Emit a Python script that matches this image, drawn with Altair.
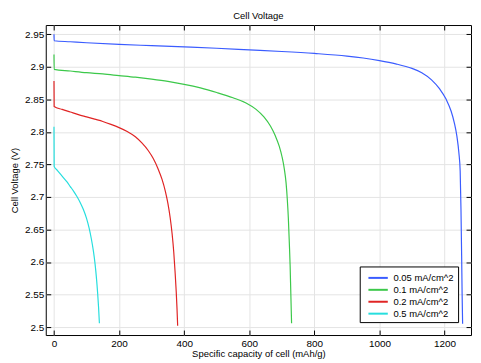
import altair as alt
import pandas as pd

series_names = ["0.05 mA/cm^2", "0.1 mA/cm^2", "0.2 mA/cm^2", "0.5 mA/cm^2"]
series_colors = ["#3a5cff", "#3cc84a", "#e02424", "#26dede"]

cap_005 = [0, 0.5, 50, 100, 200, 300, 400, 500, 600, 700, 800, 900, 950, 1000, 1050,
           1100, 1130, 1160, 1185, 1205, 1220, 1230, 1238, 1244, 1248, 1250.5, 1252.5,
           1254, 1255.5]
volt_005 = [2.950, 2.940, 2.9385, 2.937, 2.9345, 2.9325, 2.9305, 2.9285, 2.926, 2.9235,
            2.9205, 2.9165, 2.9135, 2.9095, 2.9045, 2.8975, 2.891, 2.880, 2.866, 2.850,
            2.832, 2.814, 2.793, 2.768, 2.740, 2.680, 2.610, 2.550, 2.505]

cap_01 = [0, 0.5, 50, 100, 150, 200, 250, 300, 350, 400, 450, 500, 550, 590, 620, 645,
          665, 680, 692, 701, 708, 713, 717, 720, 723, 725.5, 727.5, 729, 730]
volt_01 = [2.919, 2.896, 2.8935, 2.891, 2.889, 2.8865, 2.884, 2.881, 2.8775, 2.873,
           2.8675, 2.8605, 2.8525, 2.8445, 2.835, 2.823, 2.809, 2.794, 2.778, 2.761, 2.742,
           2.722, 2.695, 2.668, 2.630, 2.595, 2.555, 2.525, 2.506]

cap_02 = [0, 0.5, 25, 50, 75, 100, 125, 150, 175, 200, 225, 250, 270, 290, 305, 320,
          332, 342, 350, 357, 363, 368, 372, 375.5, 378, 380]
volt_02 = [2.878, 2.839, 2.8345, 2.8305, 2.8265, 2.823, 2.8195, 2.816, 2.8115, 2.8065,
           2.8005, 2.7925, 2.783, 2.771, 2.759, 2.743, 2.727, 2.709, 2.690, 2.668, 2.643,
           2.615, 2.585, 2.555, 2.528, 2.502]

cap_05 = [0, 0.5, 10, 20, 30, 40, 50, 60, 70, 80, 90, 100, 108, 115, 121, 126, 130, 134,
          137, 139.5]
volt_05 = [2.808, 2.747, 2.741, 2.735, 2.729, 2.723, 2.716, 2.709, 2.701, 2.692, 2.681,
           2.667, 2.652, 2.635, 2.617, 2.598, 2.578, 2.553, 2.530, 2.506]

x_ticks = [0, 200, 400, 600, 800, 1000, 1200]
y_ticks = [2.5, 2.55, 2.6, 2.65, 2.7, 2.75, 2.8, 2.85, 2.9, 2.95]

rows = []
for name, xs, ys in zip(series_names,
                        [cap_005, cap_01, cap_02, cap_05],
                        [volt_005, volt_01, volt_02, volt_05]):
    for i, (a, b) in enumerate(zip(xs, ys)):
        rows.append({"series": name, "capacity": a, "voltage": b, "idx": i})
df = pd.DataFrame(rows)

FONT = "Liberation Sans"
xscale = alt.Scale(domain=[-25.3, 1281.3], nice=False, zero=False)
yscale = alt.Scale(domain=[2.4878, 2.9642], nice=False, zero=False)

lines = alt.Chart(df).mark_line(strokeWidth=1.2, clip=True, interpolate="monotone").encode(
    x=alt.X("capacity:Q", scale=xscale,
            axis=alt.Axis(orient="bottom", values=x_ticks, format="d",
                          title="Specific capacity of cell (mAh/g)",
                          offset=-5, tickSize=5, domain=False, grid=True,
                          labelPadding=4, titlePadding=0)),
    y=alt.Y("voltage:Q", scale=yscale,
            axis=alt.Axis(orient="left", values=y_ticks, format="~g",
                          title="Cell Voltage (V)",
                          offset=-5, tickSize=5, domain=False, grid=True,
                          labelPadding=2, titlePadding=5)),
    color=alt.Color("series:N",
                    scale=alt.Scale(domain=series_names, range=series_colors),
                    legend=alt.Legend(title=None, orient="none", legendX=316, legendY=243,
                                      symbolType="M-1.5,0H1.5", symbolSize=169,
                                      symbolStrokeWidth=2, labelFontSize=9.5,
                                      labelFont=FONT, labelColor="black",
                                      fillColor="white", strokeColor="black",
                                      padding=4, rowPadding=-0.5, symbolOffset=7,
                                      labelOffset=8)),
    order="idx:Q",
)

ghost = alt.Chart(df).mark_line(opacity=0).encode(
    x=alt.X("capacity:Q", scale=xscale,
            axis=alt.Axis(orient="top", values=x_ticks, labels=False, title=None,
                          offset=-5, tickSize=5, domain=False, grid=False)),
    y=alt.Y("voltage:Q", scale=yscale,
            axis=alt.Axis(orient="right", values=y_ticks, labels=False, title=None,
                          offset=-5, tickSize=5, domain=False, grid=False)),
    detail="series:N",
    order="idx:Q",
)

chart = alt.layer(lines, ghost).resolve_axis(
    x="independent", y="independent"
).properties(
    width=428, height=312,
    title=alt.TitleParams("Cell Voltage", fontSize=9.5, font=FONT, fontWeight="normal",
                          color="black", anchor="middle", offset=4),
    autosize=alt.AutoSizeParams(type="none"),
    padding={"left": 38, "top": 16, "right": 2, "bottom": 24},
).configure_view(
    stroke="black", strokeWidth=1
).configure_axis(
    labelFont=FONT, titleFont=FONT, labelFontSize=10, titleFontSize=9.5,
    titleFontWeight="normal", labelColor="black", titleColor="black",
    tickColor="black", tickWidth=1, gridColor="#e4e4e4", gridWidth=1,
)

chart.save("out.html", embed_options={"renderer": "svg", "actions": False})
